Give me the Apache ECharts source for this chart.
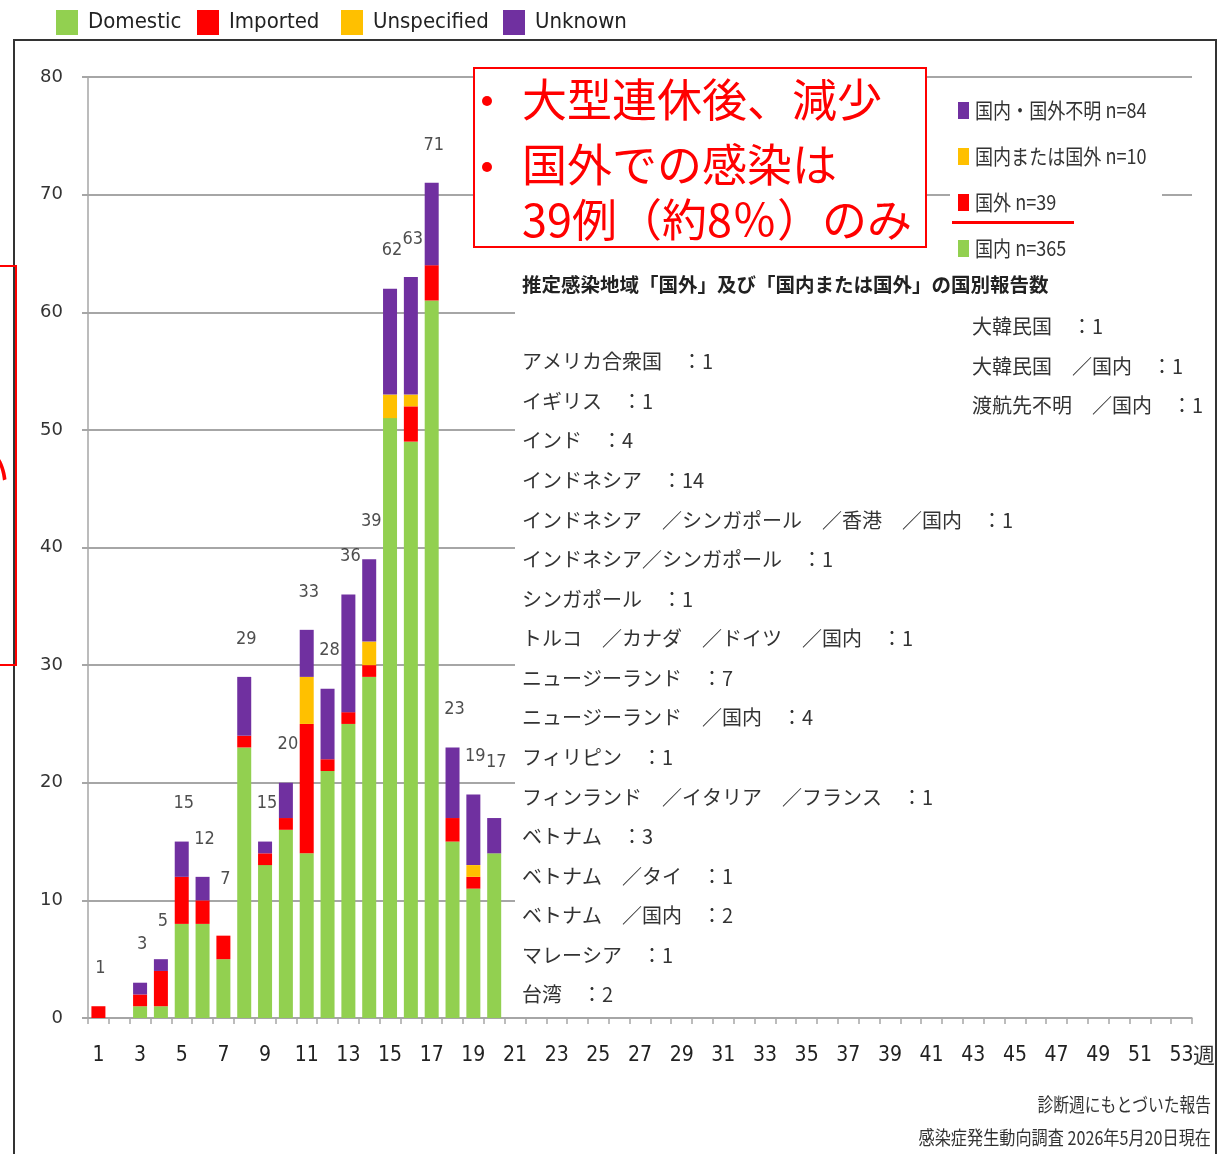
<!DOCTYPE html>
<html>
<head>
<meta charset="utf-8">
<script src="https://cdn.jsdelivr.net/npm/echarts@6/dist/echarts.min.js"></script>
<style>
html,body{margin:0;padding:0;background:#fff;}
#chart{width:1226px;height:1154px;}
</style>
</head>
<body>
<div id="chart"></div>
<script>
// ---- data ----
const weeks = ['1','2','3','4','5','6','7','8','9','10','11','12','13','14','15','16','17','18','19','20',
  '21','22','23','24','25','26','27','28','29','30','31','32','33','34','35','36','37','38','39','40',
  '41','42','43','44','45','46','47','48','49','50','51','52','53'];
const domestic    = [0,0,1,1,8,8,5,23,13,16,14,21,25,29,51,49,61,15,11,14];
const imported    = [1,0,1,3,4,2,2,1,1,1,11,1,1,1,0,3,3,2,1,0];
const unspecified = [0,0,0,0,0,0,0,0,0,0,4,0,0,2,2,1,0,0,1,0];
const unknown     = [0,0,1,1,3,2,0,5,1,3,4,6,10,7,9,10,7,6,6,3];
const seriesNames = ['Domestic','Imported','Unspecified','Unknown'];
const yTicks = [0,10,20,30,40,50,60,70,80];
const innerLegend = ['国内・国外不明 n=84','国内または国外 n=10','国外 n=39','国内 n=365'];
const calloutLines = ['大型連休後、減少','国外での感染は','39例（約8％）のみ'];
const heading = '推定感染地域「国外」及び「国内または国外」の国別報告数';
const countriesLeft = [
  'アメリカ合衆国　：1','イギリス　：1','インド　：4','インドネシア　：14',
  'インドネシア　／シンガポール　／香港　／国内　：1','インドネシア／シンガポール　：1',
  'シンガポール　：1','トルコ　／カナダ　／ドイツ　／国内　：1','ニュージーランド　：7',
  'ニュージーランド　／国内　：4','フィリピン　：1','フィンランド　／イタリア　／フランス　：1',
  'ベトナム　：3','ベトナム　／タイ　：1','ベトナム　／国内　：2','マレーシア　：1','台湾　：2'];
const countriesRight = ['大韓民国　：1','大韓民国　／国内　：1','渡航先不明　／国内　：1'];
const notes = ['診断週にもとづいた報告','感染症発生動向調査 2026年5月20日現在'];
const raisedLabelWeeks = ['7','20'];

// ---- styling ----
const colors = ['#92d050','#ff0000','#ffc000','#7030a0'];
const NARROW = '"DejaVu Sans Condensed","Liberation Sans",sans-serif';
const JP = '"Noto Sans CJK JP",sans-serif';
const GRID_COLOR = '#a6a6a6';
const legendLeft = [56,197,341,503];

const totals = domestic.map((d,i)=>d+imported[i]+unspecified[i]+unknown[i]);
const labelData = weeks.map((w,i)=>{
  const t = totals[i];
  if (!t) return '-';
  const raised = raisedLabelWeeks.indexOf(w) >= 0;
  return {value:t, label:{offset:[2, raised ? -56 : -38]}};
});

const valueSets = [domestic, imported, unspecified, unknown];
const barSeries = seriesNames.map((name,k)=>({
  name, type:'bar', stack:'total', barWidth:14,
  data: valueSets[k],
  itemStyle:{color:colors[k]},
  emphasis:{disabled:true}, silent:true
}));

const legends = seriesNames.map((name,k)=>({
  data:[name], left:legendLeft[k], top:10, padding:0, itemWidth:22, itemHeight:25,
  icon:'rect', selectedMode:false,
  textStyle:{fontFamily:NARROW, fontSize:22, color:'#222', padding:[0,0,0,5]}
}));

const g = [];
// outer frame
g.push({type:'rect', z:100, shape:{x:14,y:40,width:1202,height:1140}, style:{fill:null, stroke:'#333', lineWidth:2}});
// red box at left edge (clipped)
g.push({type:'rect', z:100, shape:{x:-10,y:266,width:26,height:399}, style:{fill:null, stroke:'#ff0000', lineWidth:2}});
g.push({type:'text', z:100, x:-34, y:470, style:{text:'い', font:'44px '+JP, fill:'#ff0000', verticalAlign:'middle'}});
// callout box
g.push({type:'rect', z:100, shape:{x:474,y:68,width:452,height:179}, style:{fill:'#fff', stroke:'#ff0000', lineWidth:2}});
const calloutY = [100,165,220];
calloutLines.forEach((t,i)=>{
  g.push({type:'text', z:101, x:522, y:calloutY[i], style:{text:t, font:'45px '+JP, fill:'#ff0000', verticalAlign:'middle'}});
});
g.push({type:'circle', z:101, shape:{cx:487,cy:101,r:5}, style:{fill:'#ff0000'}});
g.push({type:'circle', z:101, shape:{cx:487,cy:167,r:5}, style:{fill:'#ff0000'}});
// inner legend
g.push({type:'rect', z:99, shape:{x:950,y:88,width:212,height:175}, style:{fill:'#fff'}});
const innerColors = [colors[3], colors[2], colors[1], colors[0]];
const innerY = [110,156,202,248];
innerLegend.forEach((t,i)=>{
  g.push({type:'rect', z:101, shape:{x:958,y:innerY[i]-8,width:11,height:17}, style:{fill:innerColors[i]}});
  g.push({type:'text', z:101, x:975, y:innerY[i], scaleX:0.86, style:{text:t, font:'21px '+JP, fill:'#333', verticalAlign:'middle'}});
});
g.push({type:'rect', z:101, shape:{x:952,y:221,width:122,height:3}, style:{fill:'#ff0000'}});
// country list block
g.push({type:'rect', z:99, shape:{x:515,y:262,width:690,height:750}, style:{fill:'#fff'}});
g.push({type:'text', z:101, x:522, y:285, style:{text:heading, font:'bold 19.5px '+JP, fill:'#222', verticalAlign:'middle'}});
g.push({type:'text', z:101, x:522, y:342, style:{text:countriesLeft.join('\n'), font:'20px '+JP, lineHeight:39.56, fill:'#333', verticalAlign:'top'}});
g.push({type:'text', z:101, x:972, y:307, style:{text:countriesRight.join('\n'), font:'20px '+JP, lineHeight:39.5, fill:'#333', verticalAlign:'top'}});
// week unit
g.push({type:'text', z:101, x:1204, y:1055, style:{text:'週', font:'22px '+JP, fill:'#333', verticalAlign:'middle', textAlign:'center'}});
// notes
g.push({type:'text', z:101, x:1211, y:1105, scaleX:0.83, style:{text:notes[0], font:'19px '+JP, fill:'#333', verticalAlign:'middle', textAlign:'right'}});
g.push({type:'text', z:101, x:1211, y:1138, scaleX:0.85, style:{text:notes[1], font:'19px '+JP, fill:'#333', verticalAlign:'middle', textAlign:'right'}});

const chart = echarts.init(document.getElementById('chart'), null, {renderer:'canvas'});
chart.setOption({
  animation:false,
  backgroundColor:'#fff',
  legend:legends,
  grid:{left:88, top:77, right:34, bottom:136, containLabel:false},
  xAxis:{
    type:'category', data:weeks,
    axisLine:{lineStyle:{color:GRID_COLOR, width:1.5}},
    axisTick:{show:true, interval:0, length:6, lineStyle:{color:GRID_COLOR, width:1.5}},
    axisLabel:{interval:1, margin:27, fontFamily:NARROW, fontSize:21, color:'#222'},
    splitLine:{show:false}
  },
  yAxis:{
    type:'value', min:yTicks[0], max:yTicks[yTicks.length-1], interval:yTicks[1]-yTicks[0],
    axisLine:{show:true, lineStyle:{color:GRID_COLOR, width:1.5}},
    axisTick:{show:true, length:6, lineStyle:{color:GRID_COLOR, width:2}},
    axisLabel:{margin:25, fontFamily:'"DejaVu Sans",sans-serif', fontSize:18, color:'#333', padding:[0,0,5,0]},
    splitLine:{show:true, lineStyle:{color:GRID_COLOR, width:2}}
  },
  series:[...barSeries, {
    name:'total', type:'scatter', data:labelData, symbolSize:1,
    itemStyle:{color:'rgba(0,0,0,0)'}, silent:true, z:5,
    label:{show:true, position:'inside', fontFamily:NARROW, fontSize:18, color:'#222'}
  }],
  graphic:{elements:g}
});
</script>
</body>
</html>
